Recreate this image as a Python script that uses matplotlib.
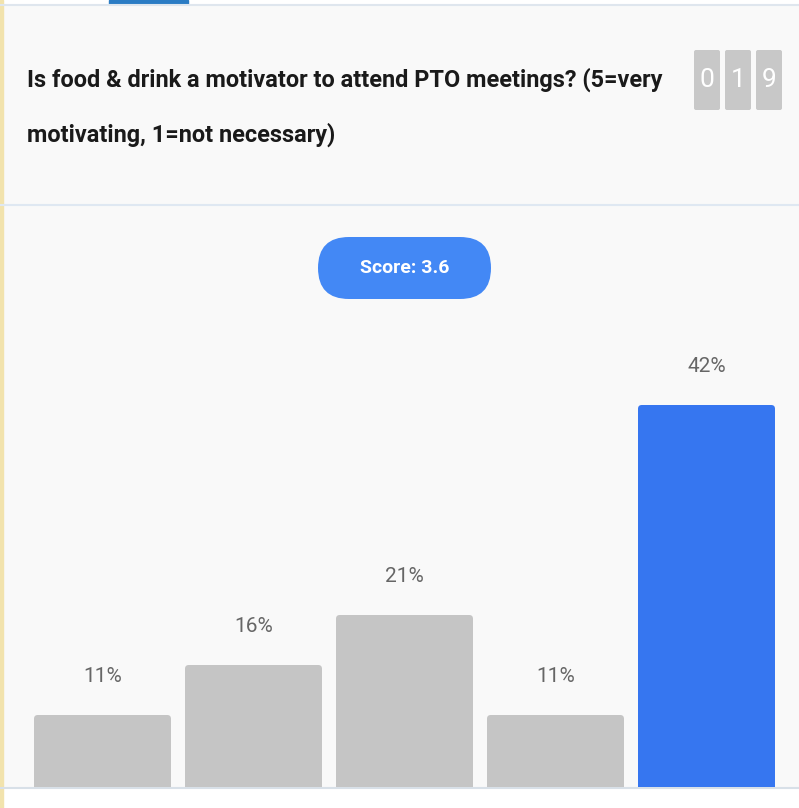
import matplotlib
matplotlib.use("Agg")
import matplotlib.pyplot as plt
from matplotlib.patches import FancyBboxPatch, Rectangle

plt.rcParams['font.family'] = ['Roboto', 'DejaVu Sans']

# ---------------------------
# data
# ---------------------------
title_lines = ["Is food & drink a motivator to attend PTO meetings? (5=very",
               "motivating, 1=not necessary)"]
counter_digits = ["0", "1", "9"]
score_label = "Score: 3.6"
ratings = [1, 2, 3, 4, 5]
percents = [11, 16, 21, 11, 42]
highlight = [False, False, False, False, True]

W, H = 799, 808
fig = plt.figure(figsize=(W / 100, H / 100), dpi=100)
fig.patch.set_facecolor("#f9f9f9")

# overlay axes in pixel coords (y down)
deco = fig.add_axes([0, 0, 1, 1])
deco.set_xlim(0, W)
deco.set_ylim(H, 0)
deco.axis("off")

# top strip, tab, separators, side stripe, bottom white
deco.add_patch(Rectangle((0, 0), W, 4, color="white"))
deco.add_patch(Rectangle((109, 0), 79, 4, color="#2b7cc4"))
deco.plot([0, W], [4.5, 4.5], color="#dfe6ee", lw=1.5)
deco.plot([0, W], [205, 205], color="#dfe8f2", lw=1.5)
deco.add_patch(Rectangle((0, 788), W, 20, color="white"))
deco.plot([0, W], [788, 788], color="#d8e0e8", lw=1.5)
deco.add_patch(Rectangle((0, 0), 3, H, color="#f2e3ad"))

# title
for i, line in enumerate(title_lines):
    deco.text(27, 80 + i * 55, line, fontsize=16.9, fontweight="bold",
              color="#1a1a1a", va="center", ha="left")

# counter boxes
for i, d in enumerate(counter_digits):
    x0 = 694 + i * 31
    deco.add_patch(FancyBboxPatch((x0, 50), 26, 60,
                                  boxstyle="round,pad=0,rounding_size=2",
                                  fc="#c8c8c8", ec="none"))
    deco.text(x0 + 13, 80, d, fontsize=19, color="white",
              ha="center", va="center")

# score pill
deco.add_patch(FancyBboxPatch((318, 237), 173, 62,
                              boxstyle="round,pad=0,rounding_size=31",
                              fc="#4388f5", ec="none"))
deco.text(404.5, 268, score_label, fontsize=14, fontweight="bold",
          color="white", ha="center", va="center")

# ---------------------------
# bar chart
# ---------------------------
ax_left, ax_right = 27, 782
ax_bottom, ax_top = 787, 330
ax = fig.add_axes([ax_left / W, (H - ax_bottom) / H,
                   (ax_right - ax_left) / W, (ax_bottom - ax_top) / H])
ax.set_facecolor("none")
y0 = 3.8
ax.set_xlim(-0.5, len(ratings) - 0.5)
ax.set_ylim(y0, y0 + (ax_bottom - ax_top) / 10)
ax.axis("off")

bw = 137 / 151
for i, (p, hl) in enumerate(zip(percents, highlight)):
    col = "#3676f0" if hl else "#c5c5c5"
    bar = FancyBboxPatch((i - bw / 2, 0), bw, p,
                         boxstyle="round,pad=0,rounding_size=0.025",
                         mutation_aspect=15.1, fc=col, ec="none")
    ax.add_patch(bar)
    ax.text(i, p + 3.8, f"{p}%", fontsize=15, color="#666666",
            ha="center", va="center")

fig.savefig("out.png", dpi=100, facecolor=fig.get_facecolor())
